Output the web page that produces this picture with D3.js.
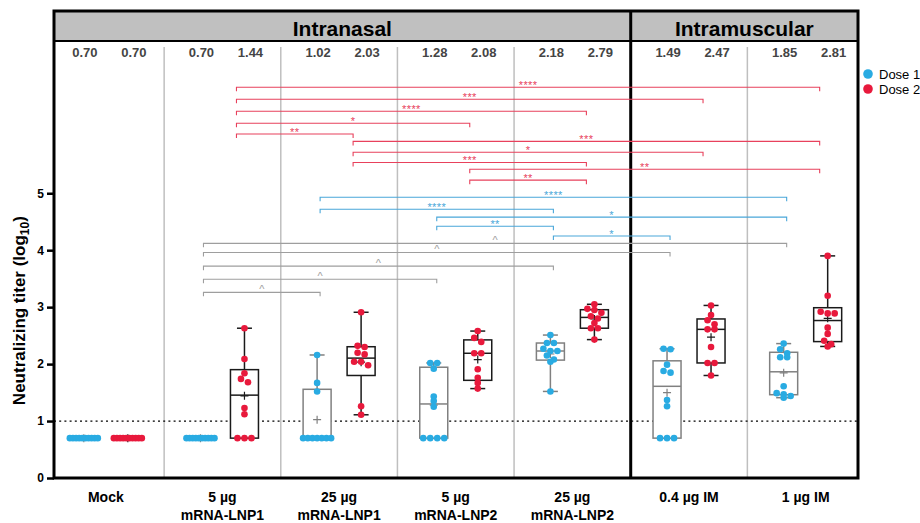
<!DOCTYPE html>
<html>
<head>
<meta charset="utf-8">
<script src="https://cdn.jsdelivr.net/npm/d3@7"></script>
<style>
  body { margin: 0; background: #fff; }
  svg { font-family: "Liberation Sans", Arial, sans-serif; }
</style>
</head>
<body>
<div id="chart"></div>
<script>
// ---- data ----
const groups = ["Mock", "5 µg mRNA-LNP1", "25 µg mRNA-LNP1", "5 µg mRNA-LNP2", "25 µg mRNA-LNP2", "0.4 µg IM", "1 µg IM"];
const groupLabels = [["Mock"], ["5 µg", "mRNA-LNP1"], ["25 µg", "mRNA-LNP1"], ["5 µg", "mRNA-LNP2"], ["25 µg", "mRNA-LNP2"], ["0.4 µg IM"], ["1 µg IM"]];
const doses = ["Dose 1", "Dose 2"];

const dose1Values = [
    [0.70, 0.70, 0.70, 0.70, 0.70, 0.70, 0.70, 0.70, 0.70, 0.70],
    [0.70, 0.70, 0.70, 0.70, 0.70, 0.70, 0.70, 0.70, 0.70, 0.70],
    [2.16, 1.67, 1.52, 0.70, 0.70, 0.70, 0.70, 0.70, 0.70, 0.70],
    [2.02, 2.02, 1.92, 1.43, 1.35, 1.25, 0.70, 0.70, 0.70, 0.70],
    [2.51, 2.37, 2.37, 2.27, 2.23, 2.23, 2.15, 2.08, 2.04, 1.52],
    [2.27, 2.26, 1.99, 1.88, 1.85, 1.37, 1.26, 0.70, 0.70, 0.70],
    [2.36, 2.26, 2.19, 2.12, 2.12, 1.61, 1.49, 1.47, 1.44, 1.41]
];
const dose2Values = [
    [0.70, 0.70, 0.70, 0.70, 0.70, 0.70, 0.70, 0.70, 0.70, 0.70],
    [2.63, 2.09, 1.84, 1.74, 1.68, 1.23, 1.12, 0.70, 0.70, 0.70],
    [2.91, 2.32, 2.30, 2.20, 2.17, 2.04, 2.04, 1.98, 1.26, 1.11],
    [2.58, 2.46, 2.39, 2.19, 2.19, 1.91, 1.76, 1.67, 1.57],
    [3.05, 2.97, 2.95, 2.90, 2.84, 2.80, 2.72, 2.63, 2.63, 2.43],
    [3.03, 2.86, 2.77, 2.70, 2.61, 2.61, 2.30, 2.02, 2.02, 1.80],
    [3.90, 3.20, 2.92, 2.89, 2.89, 2.64, 2.53, 2.41, 2.35, 2.31]
];
const meanLabels1 = ["0.70", "0.70", "1.02", "1.28", "2.18", "1.49", "1.85"];
const meanLabels2 = ["0.70", "1.44", "2.03", "2.08", "2.79", "2.47", "2.81"];

const sections = ["Intranasal", "Intramuscular"];
const sectionFirstGroup = [0, 5];
const sectionLastGroup = [4, 6];

const yTicks = [0, 1, 2, 3, 4, 5];
const detectionLimit = 1;

// comparison brackets: [from group, to group], dose, height (log10 units), mark
const brackets = [
    { from: 1, to: 6, dose: "Dose 2", level: 6.86, mark: "****" },
    { from: 1, to: 5, dose: "Dose 2", level: 6.65, mark: "***" },
    { from: 1, to: 4, dose: "Dose 2", level: 6.44, mark: "****" },
    { from: 1, to: 3, dose: "Dose 2", level: 6.23, mark: "*" },
    { from: 1, to: 2, dose: "Dose 2", level: 6.04, mark: "**" },
    { from: 2, to: 6, dose: "Dose 2", level: 5.91, mark: "***" },
    { from: 2, to: 5, dose: "Dose 2", level: 5.72, mark: "*" },
    { from: 2, to: 4, dose: "Dose 2", level: 5.54, mark: "***" },
    { from: 3, to: 6, dose: "Dose 2", level: 5.42, mark: "**" },
    { from: 3, to: 4, dose: "Dose 2", level: 5.23, mark: "**" },
    { from: 2, to: 6, dose: "Dose 1", level: 4.93, mark: "****" },
    { from: 2, to: 4, dose: "Dose 1", level: 4.72, mark: "****" },
    { from: 3, to: 6, dose: "Dose 1", level: 4.58, mark: "*" },
    { from: 3, to: 4, dose: "Dose 1", level: 4.42, mark: "**" },
    { from: 4, to: 5, dose: "Dose 1", level: 4.25, mark: "*" },
    { from: 1, to: 6, dose: "cross", level: 4.12, mark: "^" },
    { from: 1, to: 5, dose: "cross", level: 3.96, mark: "^" },
    { from: 1, to: 4, dose: "cross", level: 3.72, mark: "^" },
    { from: 1, to: 3, dose: "cross", level: 3.49, mark: "^" },
    { from: 1, to: 2, dose: "cross", level: 3.26, mark: "^" }
];

// ---- layout / style ----
const width = 920, height = 523;
const frame = { left: 54, right: 858, top: 11, band: 41, bottom: 478 };
const pointColor = { "Dose 1": "#29abe2", "Dose 2": "#e8193c" };
const boxColor = { "Dose 1": "#808080", "Dose 2": "#1a1a1a" };
const bracketColor = { "Dose 1": "#4aa7d9", "Dose 2": "#e8415c", "cross": "#9e9e9e" };
const bracketNudge = { "Dose 1": 3, "Dose 2": -8 };
const boxWidth = 28, capWidth = 15, dotR = 3.3;

const svg = d3.select("#chart").append("svg")
    .attr("width", width)
    .attr("height", height);

const x = d3.scaleBand()
    .domain(groups)
    .range([47.5, 864]);

const xDose = d3.scalePoint()
    .domain(doses)
    .range([-22, 22]);

const y = d3.scaleLinear()
    .domain([0, 8.2])
    .range([frame.bottom, frame.top]);

const colX = (g, d) => x(groups[g]) + x.bandwidth() / 2 + xDose(d);

// Prism style quartiles: position (n + 1) * p
function quartile(sorted, p) {
    const n = sorted.length;
    let pos = (n + 1) * p;
    if (pos < 1) pos = 1;
    if (pos > n) pos = n;
    const lo = Math.floor(pos), frac = pos - lo;
    const a = sorted[lo - 1], b = sorted[Math.min(lo, n - 1)];
    return a + frac * (b - a);
}

// simple row-based beeswarm
function swarm(values, cx) {
    const pts = values.map(v => ({ v: v, py: y(v) })).sort((a, b) => a.py - b.py);
    const rows = [];
    pts.forEach(p => {
        const row = rows[rows.length - 1];
        if (row && p.py - row[0].py < 4) row.push(p);
        else rows.push([p]);
    });
    rows.forEach(row => {
        const k = row.length;
        const s = k > 1 ? Math.min(7, boxWidth / (k - 1)) : 0;
        row.forEach((p, i) => { p.px = cx + (i - (k - 1) / 2) * s; });
    });
    return pts;
}

// ---- header band ----
svg.append("rect")
    .attr("x", frame.left).attr("y", frame.top)
    .attr("width", frame.right - frame.left).attr("height", frame.band - frame.top)
    .attr("fill", "#c0c0c0");

svg.append("line")
    .attr("x1", frame.left).attr("x2", frame.right)
    .attr("y1", frame.band).attr("y2", frame.band)
    .attr("stroke", "#000").attr("stroke-width", 2);

sections.forEach((s, i) => {
    const x0 = i === 0 ? frame.left : x(groups[sectionFirstGroup[i]]);
    const x1 = i === sections.length - 1 ? frame.right : x(groups[sectionLastGroup[i]]) + x.bandwidth();
    svg.append("text")
        .attr("x", (x0 + x1) / 2).attr("y", 36)
        .attr("text-anchor", "middle")
        .style("font-size", "21px").style("font-weight", "bold")
        .text(s);
});

// ---- group dividers ----
groups.slice(1).forEach((g, i) => {
    const isSection = sectionFirstGroup.includes(i + 1);
    svg.append("line")
        .attr("x1", x(g)).attr("x2", x(g))
        .attr("y1", isSection ? frame.top : 47).attr("y2", frame.bottom)
        .attr("stroke", isSection ? "#000" : "#bfbfbf")
        .attr("stroke-width", isSection ? 3 : 1.5);
});

// ---- mean labels row ----
groups.forEach((g, i) => {
    [meanLabels1[i], meanLabels2[i]].forEach((t, j) => {
        svg.append("text")
            .attr("x", colX(i, doses[j]) + (j === 1 ? 6 : 1))
            .attr("y", 57)
            .attr("text-anchor", "middle")
            .style("font-size", "13px").style("font-weight", "bold")
            .attr("fill", "#444")
            .text(t);
    });
});

// ---- limit of detection ----
svg.append("line")
    .attr("x1", frame.left).attr("x2", frame.right)
    .attr("y1", y(detectionLimit)).attr("y2", y(detectionLimit))
    .attr("stroke", "#000").attr("stroke-width", 1.3)
    .attr("stroke-dasharray", "2,3.2");

// ---- brackets ----
const bg = svg.append("g").attr("class", "brackets");
brackets.forEach(b => {
    const d = b.dose === "Dose 2" ? "Dose 2" : "Dose 1";
    const x1 = colX(b.from, d) + bracketNudge[d];
    const x2 = colX(b.to, d) + bracketNudge[d];
    const yy = y(b.level);
    const col = bracketColor[b.dose];
    bg.append("path")
        .attr("d", `M${x1},${yy + 4}V${yy}H${x2}V${yy + 4}`)
        .attr("fill", "none").attr("stroke", col).attr("stroke-width", 1.1);
    bg.append("text")
        .attr("x", (x1 + x2) / 2)
        .attr("y", b.mark === "^" ? yy + 0.5 : yy + 2)
        .attr("text-anchor", "middle")
        .attr("fill", col)
        .style("font-size", b.mark === "^" ? "11px" : "11px")
        .style("letter-spacing", b.mark === "^" ? "0px" : "0.4px")
        .text(b.mark);
});

// ---- box plots ----
const series = [dose1Values, dose2Values];
groups.forEach((g, gi) => {
    doses.forEach((d, di) => {
        const vals = series[di][gi].slice().sort(d3.ascending);
        const cx = colX(gi, d);
        const q1 = quartile(vals, 0.25), med = quartile(vals, 0.5), q3 = quartile(vals, 0.75);
        const lo = d3.min(vals), hi = d3.max(vals), mean = d3.mean(vals);
        const col = boxColor[d];
        const bx = svg.append("g").attr("stroke", col).attr("stroke-width", 1.5).attr("fill", "none");

        bx.append("line").attr("x1", cx).attr("x2", cx).attr("y1", y(hi)).attr("y2", y(q3));
        bx.append("line").attr("x1", cx).attr("x2", cx).attr("y1", y(q1)).attr("y2", y(lo));
        [lo, hi].forEach(v => bx.append("line")
            .attr("x1", cx - capWidth / 2).attr("x2", cx + capWidth / 2)
            .attr("y1", y(v)).attr("y2", y(v)));
        bx.append("rect")
            .attr("x", cx - boxWidth / 2).attr("width", boxWidth)
            .attr("y", y(q3)).attr("height", y(q1) - y(q3))
            .attr("fill", "#fff");
        bx.append("line")
            .attr("x1", cx - boxWidth / 2).attr("x2", cx + boxWidth / 2)
            .attr("y1", y(med)).attr("y2", y(med));
        bx.append("path")
            .attr("stroke-width", 1.2)
            .attr("d", `M${cx - 4},${y(mean)}H${cx + 4}M${cx},${y(mean) - 4}V${y(mean) + 4}`);

        svg.append("g").selectAll("circle")
            .data(swarm(vals, cx))
            .join("circle")
            .attr("cx", p => p.px)
            .attr("cy", p => p.py)
            .attr("r", dotR)
            .attr("fill", pointColor[d]);
    });
});

// ---- frame ----
svg.append("rect")
    .attr("x", frame.left).attr("y", frame.top)
    .attr("width", frame.right - frame.left).attr("height", frame.bottom - frame.top)
    .attr("fill", "none").attr("stroke", "#000").attr("stroke-width", 3);

// ---- axes ----
const yAxis = svg.append("g")
    .attr("transform", `translate(${frame.left},0)`)
    .call(d3.axisLeft(y).tickValues(yTicks).tickSize(7).tickPadding(3).tickFormat(d3.format("d")));
yAxis.select(".domain").remove();
yAxis.selectAll(".tick line").attr("stroke", "#000").attr("stroke-width", 2.5);
yAxis.selectAll(".tick text")
    .style("font-size", "12px").style("font-weight", "bold").attr("fill", "#000");

const xAxis = svg.append("g")
    .attr("transform", `translate(0,${frame.bottom})`)
    .call(d3.axisBottom(x).tickSize(0).tickFormat(""));
xAxis.select(".domain").remove();
xAxis.selectAll(".tick").each(function (g, i) {
    const t = d3.select(this).append("text")
        .attr("text-anchor", "middle")
        .attr("fill", "#000")
        .style("font-size", "14px").style("font-weight", "bold");
    groupLabels[i].forEach((line, k) => {
        t.append("tspan").attr("x", 0).attr("y", 24 + k * 18).text(line);
    });
});

// y axis title
svg.append("text")
    .attr("transform", `translate(25,${(frame.bottom + y(5)) / 2 - 25}) rotate(-90)`)
    .attr("text-anchor", "middle")
    .style("font-size", "17px").style("font-weight", "bold")
    .call(t => {
        t.append("tspan").text("Neutralizing titer (log");
        t.append("tspan").attr("dy", 4).style("font-size", "12px").text("10");
        t.append("tspan").attr("dy", -4).text(")");
    });

// ---- legend ----
const legend = svg.append("g").attr("transform", "translate(868,74)");
doses.forEach((d, i) => {
    legend.append("circle").attr("cx", 0).attr("cy", i * 15).attr("r", 4.8).attr("fill", pointColor[d]);
    legend.append("text").attr("x", 11).attr("y", i * 15 + 4.5)
        .style("font-size", "13px").text(d);
});
</script>
</body>
</html>
